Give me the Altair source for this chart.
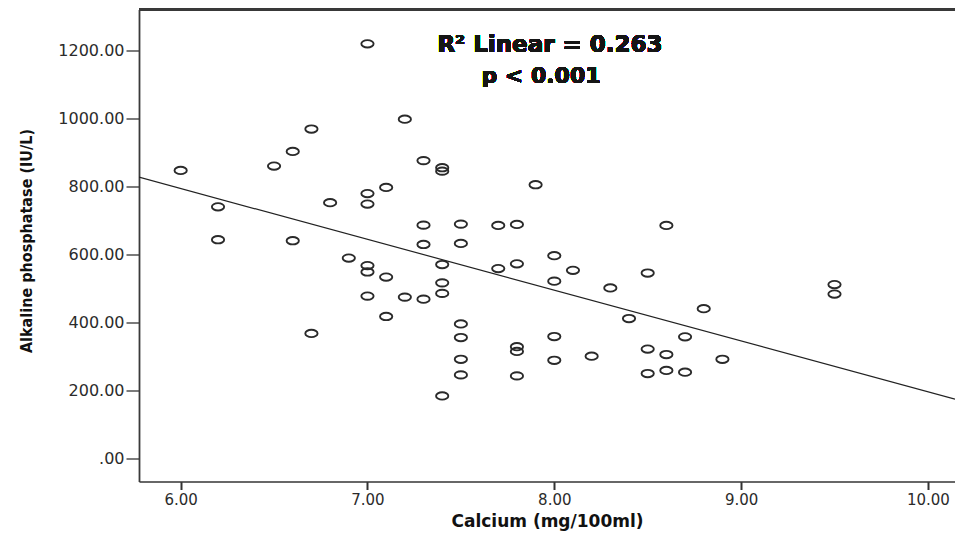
import altair as alt
import pandas as pd

# Data
calcium = [6.0, 6.2, 6.2, 6.5, 6.6, 6.6, 6.7, 6.7, 6.8, 6.9,
           7.0, 7.0, 7.0, 7.0, 7.0, 7.0, 7.1, 7.1, 7.1, 7.2,
           7.2, 7.3, 7.3, 7.3, 7.3, 7.4, 7.4, 7.4, 7.4, 7.4,
           7.4, 7.5, 7.5, 7.5, 7.5, 7.5, 7.5, 7.7, 7.7, 7.8,
           7.8, 7.8, 7.8, 7.8, 7.9, 8.0, 8.0, 8.0, 8.0, 8.1,
           8.2, 8.3, 8.4, 8.5, 8.5, 8.5, 8.6, 8.6, 8.6, 8.7,
           8.7, 8.8, 8.9, 9.5, 9.5]
alp = [847, 740, 643, 860, 903, 640, 969, 367, 752, 589,
       1220, 779, 748, 567, 548, 477, 797, 533, 417, 998,
       474, 876, 686, 629, 468, 855, 845, 570, 516, 485,
       183, 689, 632, 395, 355, 291, 245, 685, 558, 688,
       572, 328, 314, 242, 805, 596, 521, 358, 288, 553,
       300, 501, 411, 545, 321, 249, 685, 305, 258, 357,
       253, 440, 291, 511, 483]

x_domain = [5.777, 10.145]
y_domain = [-69, 1321]
x_ticks = [6, 7, 8, 9, 10]
y_ticks = [0, 200, 400, 600, 800, 1000, 1200]
annotation_r2 = "R²  Linear = 0.263"
annotation_p = "p < 0.001"

df = pd.DataFrame({"calcium": calcium, "alp": alp})

ellipse = ("M-1,0 C-1,-0.33 -0.552,-0.6 0,-0.6 C0.552,-0.6 1,-0.33 1,0 "
           "C1,0.33 0.552,0.6 0,0.6 C-0.552,0.6 -1,0.33 -1,0 Z")

W, H = 816, 472
FRAME = "#3a3a3a"

x_enc = alt.X(
    "calcium:Q",
    scale=alt.Scale(domain=x_domain, nice=False, zero=False),
    axis=alt.Axis(
        values=x_ticks, format=".2f", title="Calcium (mg/100ml)",
        grid=False, domain=True, domainColor=FRAME, domainWidth=1.6,
        tickSize=8, tickWidth=2, tickColor="#333333",
        labelFont="DejaVu Sans", labelFontSize=15, labelColor="#2b2b2b",
        labelPadding=3,
        titleFont="DejaVu Sans", titleFontSize=17, titleFontWeight="bold",
        titleColor="#111111", titleBaseline="middle", titleY=40,
    ),
)
y_enc = alt.Y(
    "alp:Q",
    scale=alt.Scale(domain=y_domain, nice=False, zero=False),
    axis=alt.Axis(
        values=y_ticks, title="Alkaline phosphatase (IU/L)",
        labelExpr="datum.value == 0 ? '.00' : format(datum.value, '.2f')",
        grid=False, domain=True, domainColor=FRAME, domainWidth=1.8,
        tickSize=13, tickWidth=1.3, tickColor="#333333",
        labelFont="DejaVu Sans", labelFontSize=16, labelColor="#2b2b2b",
        labelPadding=2,
        titleFont="DejaVu Sans Condensed", titleFontSize=16,
        titleFontWeight="bold", titleColor="#111111",
        titleAngle=270, titleBaseline="alphabetic", titleAlign="center",
        titleX=-108, titleY=231,
    ),
)

points = alt.Chart(df).mark_point(
    shape=ellipse, size=150, filled=False, stroke="#2a2a2a", strokeWidth=1.9, opacity=1
).encode(x=x_enc, y=y_enc)

fit = alt.Chart(df).transform_regression(
    "calcium", "alp", extent=x_domain
).mark_line(color="#222222", strokeWidth=1.2, clip=True).encode(
    x=alt.X("calcium:Q"), y=alt.Y("alp:Q")
)

top_border = alt.Chart(df).mark_rule(color=FRAME, strokeWidth=1.6).encode(
    x=alt.value(0), x2=alt.value(W), y=alt.value(0)
)

txt_r2 = alt.Chart(df).mark_text(
    text=annotation_r2, font="DejaVu Sans", fontSize=23, fontWeight="bold",
    color="#151515", align="center", baseline="middle"
).encode(x=alt.value(411), y=alt.value(35))

txt_p = alt.Chart(df).mark_text(
    text=annotation_p, font="DejaVu Sans", fontSize=22, fontWeight="bold",
    color="#151515", align="center", baseline="middle"
).encode(x=alt.value(402), y=alt.value(66))

chart = alt.layer(points, fit, top_border, txt_r2, txt_p).properties(
    width=W, height=H,
    autosize=alt.AutoSizeParams(type="none"),
    padding={"left": 131, "top": 1.5, "right": 0, "bottom": 50},
).configure_view(
    fill="#f0f0f0", stroke="transparent", strokeWidth=0
).configure(background="white")

chart.save("out.html", embed_options={"renderer": "svg", "actions": False})
